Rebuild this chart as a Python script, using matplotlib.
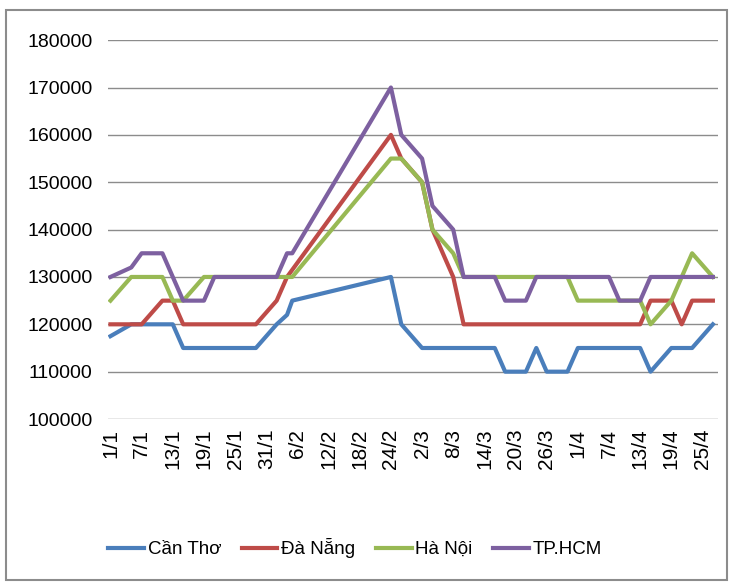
import matplotlib.pyplot as plt
from matplotlib.patches import Rectangle

# days counted from 1/1
tick_days = [0, 6, 12, 18, 24, 30, 36, 42, 48, 54, 60, 66, 72, 78, 84,
             90, 96, 102, 108, 114]
tick_labels = ['1/1', '7/1', '13/1', '19/1', '25/1', '31/1', '6/2', '12/2',
               '18/2', '24/2', '2/3', '8/3', '14/3', '20/3', '26/3', '1/4',
               '7/4', '13/4', '19/4', '25/4']

can_tho_days = [0, 4, 12, 14, 28, 32, 34, 35, 54, 56, 60, 74, 76, 80, 82, 84,
                88, 90, 102, 104, 108, 112, 116]
can_tho = [117500, 120000, 120000, 115000, 115000, 120000, 122000, 125000,
           130000, 120000, 115000, 115000, 110000, 110000, 115000, 110000,
           110000, 115000, 115000, 110000, 115000, 115000, 120000]

da_nang_days = [0, 6, 10, 12, 14, 28, 32, 34, 54, 56, 60, 62, 66, 68, 102,
                104, 108, 110, 112, 116]
da_nang = [120000, 120000, 125000, 125000, 120000, 120000, 125000, 130000,
           160000, 155000, 150000, 140000, 130000, 120000, 120000, 125000,
           125000, 120000, 125000, 125000]

ha_noi_days = [0, 4, 10, 12, 14, 18, 35, 54, 56, 60, 62, 66, 68, 88, 90, 102,
               104, 108, 112, 116]
ha_noi = [125000, 130000, 130000, 125000, 125000, 130000, 130000, 155000,
          155000, 150000, 140000, 135000, 130000, 130000, 125000, 125000,
          120000, 125000, 135000, 130000]

hcm_days = [0, 4, 6, 10, 14, 18, 20, 32, 34, 35, 54, 56, 60, 62, 66, 68, 74,
            76, 80, 82, 96, 98, 102, 104, 116]
hcm = [130000, 132000, 135000, 135000, 125000, 125000, 130000, 130000, 135000,
       135000, 170000, 160000, 155000, 145000, 140000, 130000, 130000, 125000,
       125000, 130000, 130000, 125000, 125000, 130000, 130000]

plt.rcParams['font.family'] = ['Liberation Sans', 'DejaVu Sans']

fig = plt.figure(figsize=(7.29, 5.82), dpi=100)
fig.patches.append(Rectangle((0.008, 0.004), 0.989, 0.979,
                             transform=fig.transFigure, fill=False,
                             edgecolor='#8c8c8c', linewidth=1.5))
ax = fig.add_axes([0.148, 0.280, 0.837, 0.651])

ax.plot(can_tho_days, can_tho, color='#4a7ebb', lw=3, label='Cần Thơ')
ax.plot(da_nang_days, da_nang, color='#be4b48', lw=3, label='Đà Nẵng')
ax.plot(ha_noi_days, ha_noi, color='#98b954', lw=3, label='Hà Nội')
ax.plot(hcm_days, hcm, color='#7d60a0', lw=3, label='TP.HCM')

ax.set_xlim(-0.5, 117)
ax.set_ylim(100000, 180000)
ax.set_yticks(range(100000, 180001, 10000))
ax.yaxis.grid(True, color='#8c8c8c', lw=1)
ax.set_axisbelow(True)
for s in ax.spines.values():
    s.set_visible(False)

ax.set_xticks(tick_days)
ax.set_xticklabels(tick_labels, rotation=90, fontsize=15)
ax.tick_params(axis='y', length=0, pad=11, labelsize=14)
ax.tick_params(axis='x', length=0, pad=7)

fig.legend(loc='center', bbox_to_anchor=(0.487, 0.058), ncol=4,
           frameon=False, prop={'size': 13.5},
           handlelength=1.9, handletextpad=0.2, columnspacing=1.1)

fig.savefig('out.png', dpi=100)
